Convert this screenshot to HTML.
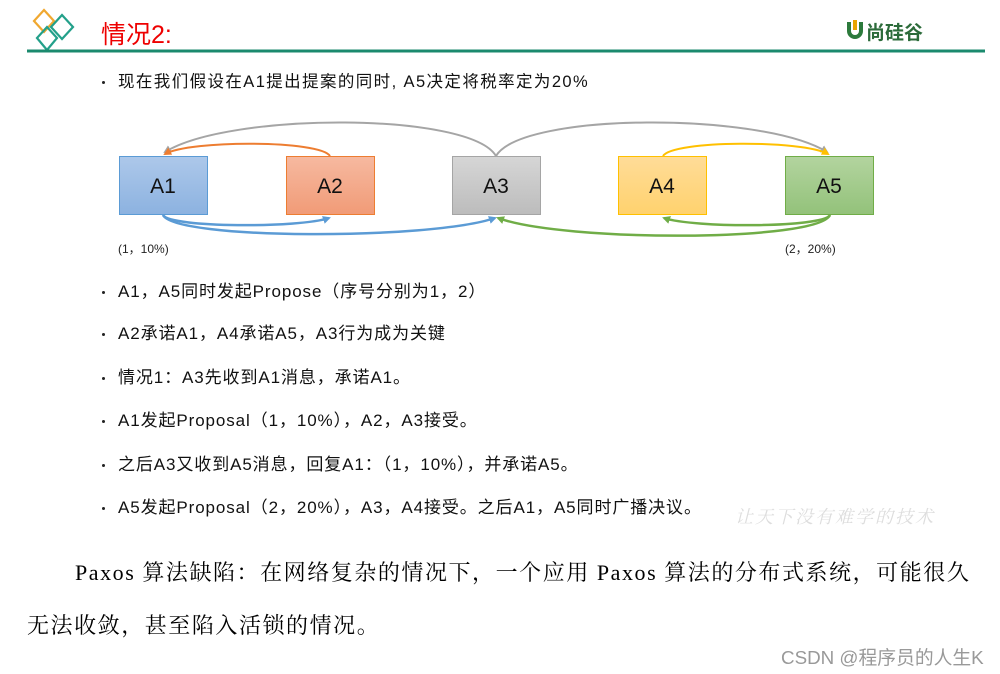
<!DOCTYPE html>
<html><head><meta charset="utf-8"><style>
body{margin:0;width:1000px;height:674px;background:#fff;position:relative;overflow:hidden;font-family:"Liberation Sans","Noto Sans CJK SC",sans-serif}
.t{position:absolute;white-space:nowrap}
.b{position:absolute;left:118px;font-size:17px;letter-spacing:0.9px;color:#111;white-space:nowrap;line-height:20px}
.b:before{content:"";position:absolute;left:-16px;top:9px;width:3px;height:3px;border-radius:2px;background:#222}
.p{position:absolute;font-family:"Liberation Serif","Noto Serif CJK SC",serif;font-size:22px;letter-spacing:1.55px;color:#000;white-space:nowrap}
</style></head><body>
<svg width="1000" height="674" style="position:absolute;left:0;top:0">
<defs>
<linearGradient id="g1" x1="0" y1="0" x2="0" y2="1"><stop offset="0" stop-color="#adc8ea"/><stop offset="1" stop-color="#8cb2e0"/></linearGradient>
<linearGradient id="g2" x1="0" y1="0" x2="0" y2="1"><stop offset="0" stop-color="#f6b9a0"/><stop offset="1" stop-color="#f19b77"/></linearGradient>
<linearGradient id="g3" x1="0" y1="0" x2="0" y2="1"><stop offset="0" stop-color="#d6d6d6"/><stop offset="1" stop-color="#bcbcbc"/></linearGradient>
<linearGradient id="g4" x1="0" y1="0" x2="0" y2="1"><stop offset="0" stop-color="#ffdc98"/><stop offset="1" stop-color="#ffd26e"/></linearGradient>
<linearGradient id="g5" x1="0" y1="0" x2="0" y2="1"><stop offset="0" stop-color="#b3d49f"/><stop offset="1" stop-color="#93c27a"/></linearGradient>
<marker id="mg" markerWidth="8" markerHeight="8" refX="6" refY="4" orient="auto" markerUnits="userSpaceOnUse"><path d="M0,0L8,4L0,8z" fill="#a5a5a5"/></marker>
<marker id="mo" markerWidth="8" markerHeight="8" refX="6" refY="4" orient="auto" markerUnits="userSpaceOnUse"><path d="M0,0L8,4L0,8z" fill="#ed7d31"/></marker>
<marker id="my" markerWidth="8" markerHeight="8" refX="6" refY="4" orient="auto" markerUnits="userSpaceOnUse"><path d="M0,0L8,4L0,8z" fill="#ffc000"/></marker>
<marker id="mb" markerWidth="8" markerHeight="8" refX="6" refY="4" orient="auto" markerUnits="userSpaceOnUse"><path d="M0,0L8,4L0,8z" fill="#5b9bd5"/></marker>
<marker id="mv" markerWidth="8" markerHeight="8" refX="6" refY="4" orient="auto" markerUnits="userSpaceOnUse"><path d="M0,0L8,4L0,8z" fill="#70ad47"/></marker>
</defs>
<g fill="none" stroke-width="2.2">
<path d="M44,10L54,21L44,32L34,21Z" stroke="#f0a830"/>
<path d="M62,15L73,27L62,39L51,27Z" stroke="#23a08a"/>
<path d="M47,27L57,38L47,50L37,38Z" stroke="#23a08a"/>
</g>
<line x1="27" y1="51" x2="985" y2="51" stroke="#1b8a6e" stroke-width="3"/>
<path d="M849,22 v9 a6,6 0 0 0 12,0 v-9" fill="none" stroke="#2c7a3c" stroke-width="4"/>
<rect x="853" y="20" width="4" height="10" fill="#e9a500"/>
<path d="M496,156 C470,112 230,112 165,152" fill="none" stroke="#a5a5a5" stroke-width="2" marker-end="url(#mg)"/>
<path d="M496,156 C522,112 762,112 827,152" fill="none" stroke="#a5a5a5" stroke-width="2" marker-end="url(#mg)"/>
<path d="M330,156 C320,140 190,140 165,154" fill="none" stroke="#ed7d31" stroke-width="2" marker-end="url(#mo)"/>
<path d="M663,156 C673,140 803,140 828,154" fill="none" stroke="#ffc000" stroke-width="2" marker-end="url(#my)"/>
<path d="M163,215 C170,228 300,228 329,218" fill="none" stroke="#5b9bd5" stroke-width="2.5" marker-end="url(#mb)"/>
<path d="M163,215 C175,240 430,240 495,218" fill="none" stroke="#5b9bd5" stroke-width="2.5" marker-end="url(#mb)"/>
<path d="M830,215 C823,228 693,228 664,218" fill="none" stroke="#70ad47" stroke-width="2.5" marker-end="url(#mv)"/>
<path d="M830,215 C818,242 563,242 498,218" fill="none" stroke="#70ad47" stroke-width="2.5" marker-end="url(#mv)"/>
<rect x="119.5" y="156.5" width="88" height="58" fill="url(#g1)" stroke="#5b9bd5"/>
<rect x="286.5" y="156.5" width="88" height="58" fill="url(#g2)" stroke="#ed7d31"/>
<rect x="452.5" y="156.5" width="88" height="58" fill="url(#g3)" stroke="#a5a5a5"/>
<rect x="618.5" y="156.5" width="88" height="58" fill="url(#g4)" stroke="#ffc000"/>
<rect x="785.5" y="156.5" width="88" height="58" fill="url(#g5)" stroke="#70ad47"/>
<g font-family="Liberation Sans,sans-serif" font-size="21" text-anchor="middle" fill="#111">
<text x="163" y="193">A1</text><text x="330" y="193">A2</text><text x="496" y="193">A3</text><text x="662" y="193">A4</text><text x="829" y="193">A5</text>
</g>
</svg>
<div class="t" style="left:101px;top:15px;font-size:25px;color:#e00">情况2:</div>
<div class="t" style="left:866px;top:18px;font-size:19px;color:#2c6b3a;font-weight:bold">尚硅谷</div>
<div class="b" style="top:72px;font-size:16.5px;letter-spacing:1.4px">现在我们假设在A1提出提案的同时, A5决定将税率定为20%</div>
<div class="t" style="left:118px;top:240px;font-size:12px;color:#222">(1，10%)</div>
<div class="t" style="left:785px;top:240px;font-size:12px;color:#222">(2，20%)</div>
<div class="b" style="top:282px">A1，A5同时发起Propose（序号分别为1，2）</div>
<div class="b" style="top:324px">A2承诺A1，A4承诺A5，A3行为成为关键</div>
<div class="b" style="top:368px">情况1：A3先收到A1消息，承诺A1。</div>
<div class="b" style="top:411px">A1发起Proposal（1，10%），A2，A3接受。</div>
<div class="b" style="top:455px">之后A3又收到A5消息，回复A1：（1，10%），并承诺A5。</div>
<div class="b" style="top:498px">A5发起Proposal（2，20%），A3，A4接受。之后A1，A5同时广播决议。</div>
<div class="t" style="left:735px;top:503px;font-size:18px;color:#ddd;font-style:italic;letter-spacing:2px;font-family:'Noto Serif CJK SC',serif">让天下没有难学的技术</div>
<div class="p" style="left:75px;top:556px">Paxos 算法缺陷：在网络复杂的情况下，一个应用 Paxos 算法的分布式系统，可能很久</div>
<div class="p" style="left:27px;top:609px">无法收敛，甚至陷入活锁的情况。</div>
<div class="t" style="left:781px;top:643px;font-size:18.8px;color:#999">CSDN @程序员的人生K</div>
</body></html>
